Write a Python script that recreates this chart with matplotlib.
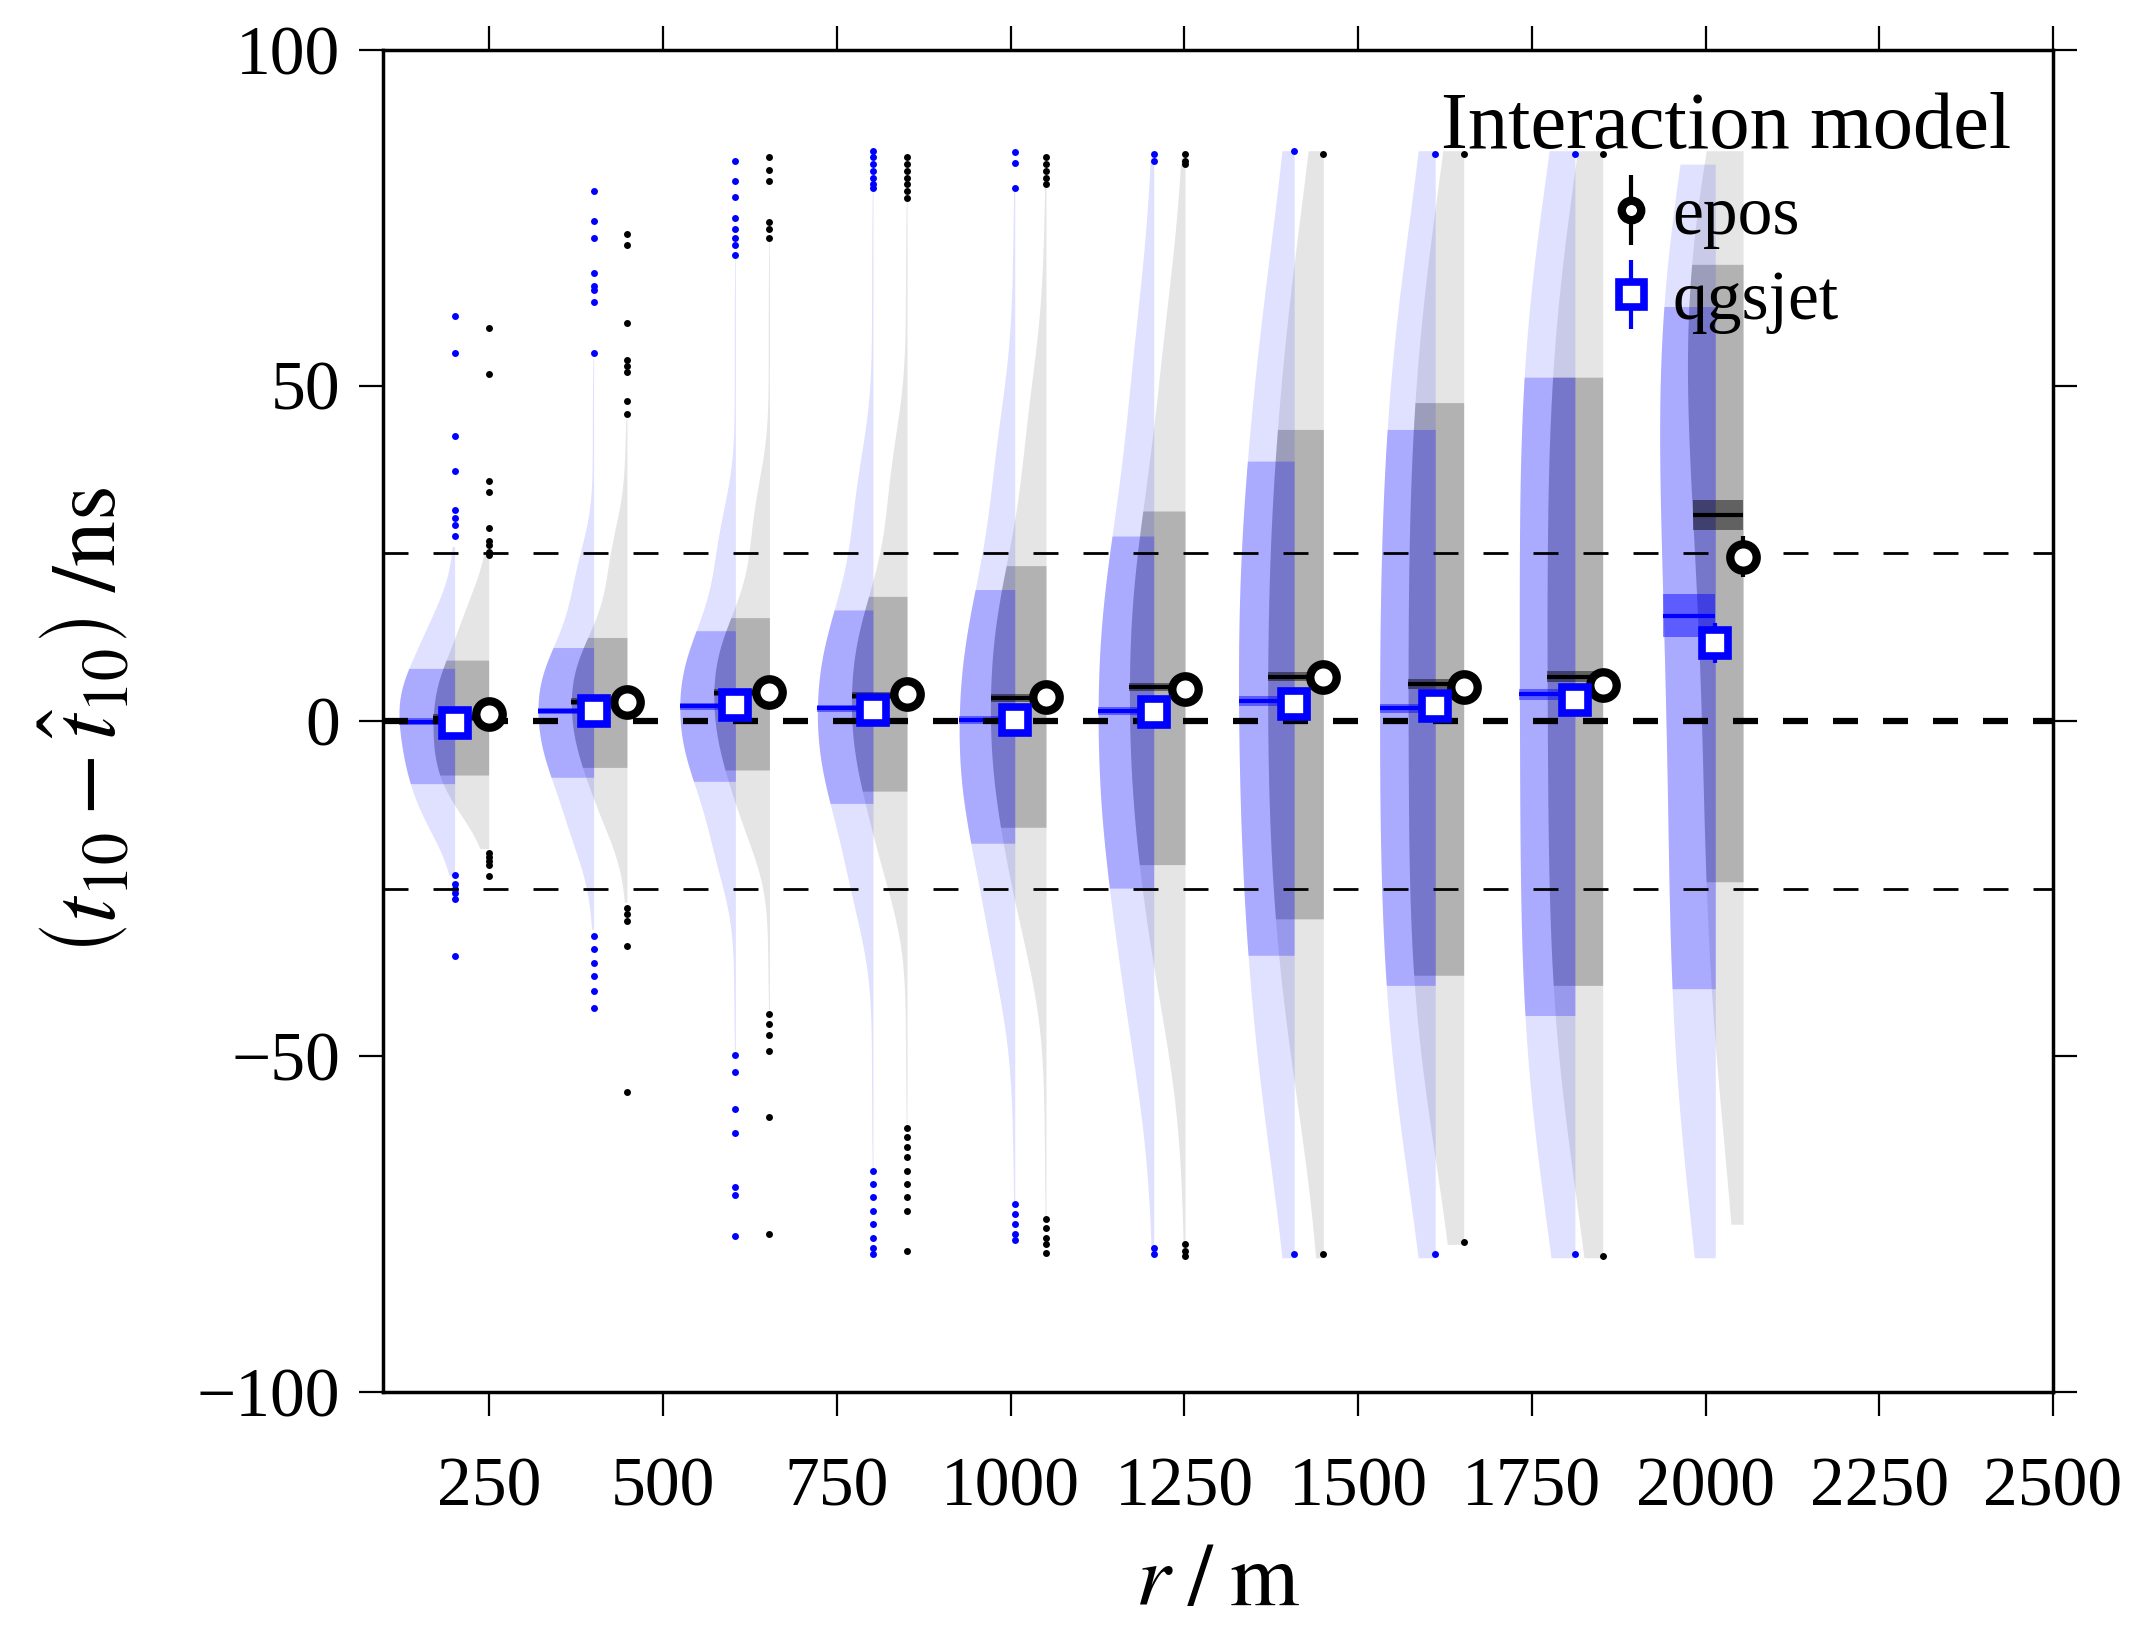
import numpy as np
import matplotlib
matplotlib.use("Agg")
import matplotlib.pyplot as plt

plt.rcParams["font.family"] = "serif"
plt.rcParams["font.serif"] = ["Liberation Serif", "DejaVu Serif"]
plt.rcParams["mathtext.fontset"] = "stix"

# --- data ------------------------------------------------------------------
r_bins = [200, 400, 600, 800, 1000, 1200, 1400, 1600, 1800, 2000]
# actual x position of each model's violin (flat edge) in m
x_qgs = [200, 400, 604, 802, 1006, 1206, 1408, 1611, 1812, 2014]
x_epos = [249, 448, 653, 851, 1051, 1251, 1450, 1652, 1852, 2054]

# means (markers) and their errors
mean_qgs = [-0.3, 1.5, 2.4, 1.7, 0.1, 1.3, 2.6, 2.2, 3.2, 11.6]
mean_epos = [1.0, 2.9, 4.3, 4.0, 3.6, 4.7, 6.6, 5.1, 5.3, 24.5]
mean_err_qgs = [1.0, 1.0, 1.1, 1.2, 1.3, 1.5, 1.8, 2.0, 2.2, 3.0]
mean_err_epos = [1.0, 1.0, 1.1, 1.2, 1.3, 1.5, 1.8, 2.0, 2.2, 3.0]

# medians (horizontal lines) and their uncertainty
med_qgs = [-0.1, 1.5, 2.2, 1.9, 0.1, 1.5, 3.0, 1.9, 4.0, 15.7]
med_epos = [0.5, 2.9, 4.2, 3.8, 3.4, 5.0, 6.6, 5.5, 6.6, 30.7]
med_err_qgs = [0.5, 0.5, 0.5, 0.5, 0.6, 0.6, 0.7, 0.7, 0.8, 3.2]
med_err_epos = [0.5, 0.5, 0.5, 0.5, 0.6, 0.6, 0.7, 0.7, 0.8, 2.3]

# distribution quantiles: min, 2%, 20%, 50% (=median), 80%, 98%, max
QUANT_P = [0.0, 0.02, 0.2, 0.5, 0.8, 0.98, 1.0]
qgs_min = [-23, -31, -49, -67, -72, -79, -80, -80, -80, -80]
qgs_q02 = [-17, -20, -24, -30, -40, -52, -66, -68, -72, -72]
qgs_q20 = [-9.4, -8.5, -9.1, -12.3, -18.3, -24.9, -35.0, -39.5, -44.1, -40.1]
qgs_q80 = [7.9, 11.0, 13.5, 16.6, 19.6, 27.7, 38.9, 43.5, 51.4, 61.8]
qgs_q98 = [17, 26, 32, 40, 47, 62, 72, 74, 78, 80]
qgs_max = [26, 54, 69, 79, 79, 84, 85, 85, 85, 83]

epos_min = [-19, -27, -43, -60, -74, -79, -80, -78, -80, -75]
epos_q02 = [-14, -17, -19, -26, -35, -46, -58, -62, -67, -60]
epos_q20 = [-8.1, -7.0, -7.3, -10.6, -15.9, -21.6, -29.7, -37.9, -39.6, -24.1]
epos_q80 = [9.1, 12.5, 15.5, 18.6, 23.3, 31.3, 43.5, 47.5, 51.4, 68.1]
epos_q98 = [19, 29, 36, 43, 52, 64, 76, 78, 80, 83]
epos_max = [25, 45, 72, 78, 80, 84, 85, 85, 85, 85]

# outliers beyond the violins
out_qgs = [
    [60.3, 54.9, 42.5, 37.3, 31.5, 30.3, 29.2, 27.5, -23.0, -24.3, -25.0, -25.6, -26.5, -35.0],
    [79.0, 74.5, 72.0, 66.7, 64.9, 64.2, 62.4, 54.9, -32.0, -34.0, -36.0, -38.0, -40.3, -42.7],
    [83.4, 80.5, 78.1, 75.0, 73.4, 72.0, 71.0, 69.5, -49.8, -52.3, -57.9, -61.4, -69.5, -70.7, -76.8],
    [85.0, 84.0, 83.0, 82.0, 81.0, 80.0, 79.5, -67.0, -69.0, -71.0, -73.0, -75.0, -77.0, -78.5, -79.5],
    [84.8, 83.1, 79.5, -72.0, -73.5, -75.0, -76.5, -77.3],
    [84.5, 83.5, -78.5, -79.5],
    [85.0, -79.5],
    [84.5, -79.5],
    [84.5, -79.5],
    [],
]
out_epos = [
    [58.5, 51.7, 35.7, 34.2, 28.8, 26.9, 26.2, 25.2, 24.7, -19.6, -20.3, -20.9, -21.5, -23.1],
    [72.6, 71.0, 59.3, 53.8, 52.9, 52.0, 47.7, 45.8, -27.8, -28.8, -29.8, -33.6, -55.3],
    [84.0, 82.1, 80.5, 74.4, 73.4, 72.0, -43.7, -45.1, -46.8, -49.2, -59.0, -76.4],
    [84.0, 83.0, 82.0, 81.0, 80.0, 79.0, 78.0, -60.6, -62.0, -63.5, -65.0, -67.0, -69.0, -71.0, -73.0, -79.0],
    [84.0, 83.0, 82.0, 81.0, 80.1, -74.2, -75.5, -77.0, -78.0, -79.3],
    [84.5, 83.5, 83.0, -78.0, -79.0, -79.8],
    [84.5, -79.5],
    [84.5, -77.6],
    [84.5, -79.7],
    [],
]

HALF_WIDTH = 80.0  # m


def profile(knots):
    """Density implied by the quantile knots, smoothed like a KDE."""
    lo, hi = knots[0], knots[-1]
    ys = np.linspace(lo, hi, 700)
    cdf = np.interp(ys, knots, QUANT_P)
    dens = np.gradient(cdf, ys)
    bw = 0.26 * (knots[4] - knots[2])
    dy = ys[1] - ys[0]
    k = np.arange(-int(3 * bw / dy), int(3 * bw / dy) + 1) * dy
    kern = np.exp(-0.5 * (k / bw) ** 2)
    kern /= kern.sum()
    dens = np.convolve(dens, kern, mode="same")
    return ys, dens / dens.max() * HALF_WIDTH


def draw_model(ax, xs, qs, meds, med_err, outs, color, a_light, a_band, z):
    for i, x in enumerate(xs):
        knots = [q[i] for q in qs]
        ys, w = profile(knots)
        ax.fill_betweenx(ys, x - w, x, color=color, alpha=a_light, lw=0, zorder=z)
        m = (ys >= knots[2]) & (ys <= knots[4])
        ax.fill_betweenx(ys[m], x - w[m], x, color=color, alpha=a_band, lw=0, zorder=z)
        wm = np.interp(meds[i], ys, w)
        ax.fill_between([x - wm, x], meds[i] - med_err[i], meds[i] + med_err[i],
                        color=color, alpha=0.45, lw=0, zorder=z + 2)
        ax.plot([x - wm, x], [meds[i], meds[i]], color=color, lw=3, zorder=z + 2,
                solid_capstyle="butt")
        if outs[i]:
            ax.plot([x] * len(outs[i]), outs[i], "o", color=color, ms=5,
                    mec="none", zorder=z + 2)


fig = plt.figure(figsize=(21.35, 16.25), dpi=100)
ax = fig.add_axes([0.1794, 0.1434, 0.7822, 0.8258])

draw_model(ax, x_epos,
           [epos_min, epos_q02, epos_q20, med_epos, epos_q80, epos_q98, epos_max],
           med_epos, med_err_epos, out_epos, "black", 0.10, 0.22, 2)
draw_model(ax, x_qgs,
           [qgs_min, qgs_q02, qgs_q20, med_qgs, qgs_q80, qgs_q98, qgs_max],
           med_qgs, med_err_qgs, out_qgs, "#0000ff", 0.12, 0.24, 3)

ax.axhline(0, color="black", lw=4.5, ls=(0, (4, 4)), zorder=6)
for yl in (25, -25):
    ax.axhline(yl, color="black", lw=2.0, ls=(0, (9, 9)), zorder=6)

ax.errorbar(x_epos, mean_epos, yerr=mean_err_epos, fmt="o", ms=19, mew=6,
            mfc="white", mec="black", ecolor="black", elinewidth=3, zorder=10)
ax.errorbar(x_qgs, mean_qgs, yerr=mean_err_qgs, fmt="s", ms=19, mew=5.5,
            mfc="white", mec="#0000ff", ecolor="#0000ff", elinewidth=3, zorder=10)

# legend proxies
h_epos = ax.errorbar([np.nan], [np.nan], yerr=[1], fmt="o", ms=14, mew=6,
                     mfc="white", mec="black", ecolor="black", elinewidth=3)
h_qgs = ax.errorbar([np.nan], [np.nan], yerr=[1], fmt="s", ms=18, mew=5.5,
                    mfc="white", mec="#0000ff", ecolor="#0000ff", elinewidth=3)
leg = ax.legend([h_epos, h_qgs], ["epos", "qgsjet"], loc="upper right",
                frameon=False, fontsize=50, title="Interaction model",
                title_fontsize=58, handlelength=0.5, handletextpad=0.35,
                labelspacing=0.3, borderaxespad=0.2)

ax.set_xlim(97, 2500)
ax.set_ylim(-100, 100)
ax.set_xticks(np.arange(250, 2501, 250))
ax.set_yticks([-100, -50, 0, 50, 100])
ax.tick_params(axis="both", which="major", direction="out", length=17, width=1.6,
               top=True, right=True, labelsize=50)
ax.tick_params(axis="x", pad=30)
ax.tick_params(axis="y", pad=14)
for s in ax.spines.values():
    s.set_linewidth(2.5)

ax.set_xlabel(r"$r\;/\;\mathrm{m}$", fontsize=64, labelpad=16)
ax.set_ylabel(r"$\left(t_{10} - \hat{t}_{10}\right)\;/\mathrm{ns}$", fontsize=66,
              labelpad=44)

fig.savefig("out.png", dpi=100)
